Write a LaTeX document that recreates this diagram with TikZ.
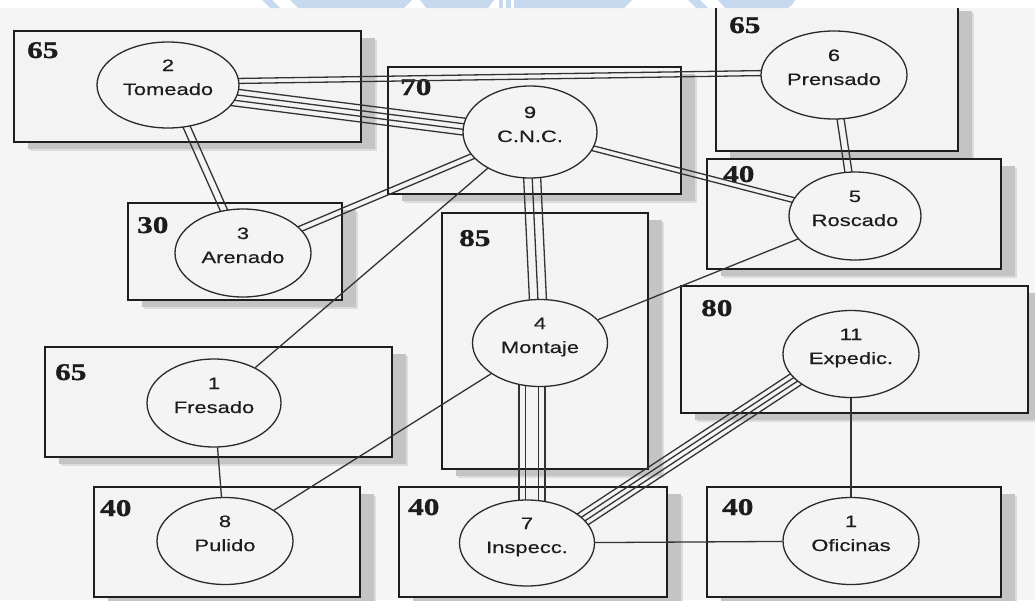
\documentclass[tikz,border=0pt]{standalone}
\usepackage{fontspec}
\usetikzlibrary{shapes.geometric,calc}

% fonts: wide sans for the stations, heavy serif for the area figures
\newfontfamily\stfont[FakeStretch=1.33,FakeBold=0.4]{Liberation Sans}
\newfontfamily\zonefont[FakeStretch=1.3,FakeBold=1.2]{Liberation Serif Bold}

\definecolor{paper}{HTML}{F5F5F5}
\definecolor{zonefill}{HTML}{F3F3F3}
\definecolor{zoneline}{HTML}{1E1E1E}
\definecolor{shadowgray}{HTML}{C4C4C4}
\definecolor{shadowsoft}{HTML}{DCDCDC}
\definecolor{stationfill}{HTML}{F4F4F4}
\definecolor{stationline}{HTML}{2A2A2A}
\definecolor{inkcol}{HTML}{1C1C1C}
\definecolor{linkcol}{HTML}{333333}
\definecolor{markblue}{HTML}{C6D9EF}

\pgfdeclarelayer{ground}
\pgfdeclarelayer{zones}
\pgfdeclarelayer{links}
\pgfdeclarelayer{top}
\pgfsetlayers{ground,zones,links,main,top}

\tikzset{
  zone/.style={draw=zoneline, line width=1.5pt, fill=zonefill},
  zonenum/.style={anchor=base west, inner sep=0pt,
    font=\zonefont\fontsize{24}{24}\selectfont, text=inkcol},
  station/.style={ellipse, draw=stationline, line width=1.3pt, fill=stationfill,
    inner sep=0pt},
  stext/.style={anchor=base, inner sep=0pt,
    font=\stfont\fontsize{16.5}{16.5}\selectfont, text=inkcol},
  link/.style={draw=linkcol, line width=1.3pt},
}

% area box with drop shadow: name, left, top, right, bottom, figure, figure x, figure y
\newcommand\workzone[8]{%
  \fill[shadowsoft] ({#2+16},{#3+9}) rectangle ({#4+16},{#5+9});
  \fill[shadowgray] ({#2+14},{#3+7}) rectangle ({#4+14},{#5+7});
  \draw[zone] (#2,#3) rectangle (#4,#5);
  \node[zonenum] (#1) at (#7,#8) {#6};
}

% station ellipse: name, x, y, width, height, number, title
\newcommand\stationnode[7]{%
  \node[station, minimum width=#4pt, minimum height=#5pt] (#1) at (#2,#3) {};
  \node[stext] (#1-num) at (#2,{#3-14}) {#6};
  \node[stext] (#1-txt) at (#2,{#3+10}) {#7};
}

% bundle of parallel lines between two points, offsets in pt
\newcommand\flow[3]{%
  \foreach \k in {#3}{%
    \draw[link] ($(#1)!\k pt!90:(#2)$) -- ($(#2)!\k pt!-90:(#1)$);
  }%
}

\begin{document}
\begin{tikzpicture}[x=1pt,y=-1pt]
\useasboundingbox (0,0) rectangle (1035,600);
\begin{pgfonlayer}{ground}
\fill[paper] (0,0) rectangle (1035,600);
\end{pgfonlayer}

% ---- stations
\stationnode{n2}{168}{85}{142}{86}{2}{Tomeado}
\stationnode{n9}{530}{132}{134}{92}{9}{C.N.C.}
\stationnode{n6}{834}{75}{146}{88}{6}{Prensado}
\stationnode{n5}{855}{216}{132}{88}{5}{Roscado}
\stationnode{n3}{243}{253}{136}{88}{3}{Arenado}
\stationnode{n4}{540}{343}{135}{87}{4}{Montaje}
\stationnode{n1}{214}{403}{134}{88}{1}{Fresado}
\stationnode{n8}{225}{541}{136}{87}{8}{Pulido}
\stationnode{n7}{527}{543}{135}{86}{7}{Inspecc.}
\stationnode{n10}{851}{541}{136}{87}{1}{Oficinas}
\stationnode{n11}{851}{354}{136}{87}{11}{Expedic.}

% ---- area boxes
\begin{pgfonlayer}{zones}
\workzone{z2}{14}{31}{361}{142}{65}{27}{58}
\workzone{z9}{388}{67}{681}{194}{70}{400}{95}
\workzone{z6}{716}{4}{958}{151}{65}{729}{33}
\workzone{z5}{707}{159}{1001}{269}{40}{723}{182}
\workzone{z3}{128}{203}{342}{300}{30}{137}{233}
\workzone{z4}{442}{213}{648}{469}{85}{459}{246}
\workzone{z11}{681}{286}{1028}{413}{80}{701}{316}
\workzone{z1}{45}{347}{392}{457}{65}{55}{380}
\workzone{z8}{94}{487}{360}{597}{40}{100}{516}
\workzone{z7}{399}{487}{667}{597}{40}{408}{515}
\workzone{z10}{707}{487}{1001}{597}{40}{722}{515}
\end{pgfonlayer}

% ---- relations (number of lines = closeness)
\begin{pgfonlayer}{links}
\coordinate (e2a) at ($(n2.center)+(0,-3)$);
\coordinate (e6a) at ($(n6.center)+(0,-3)$);
\flow{e2a}{e6a}{-2.5,2.5}
\coordinate (e2b) at ($(n2.center)+(0,4)$);
\coordinate (e9b) at ($(n9.center)+(0,3)$);
\flow{e2b}{e9b}{-8.5,-2.8,2.8,8.5}
\flow{n2.center}{n3.center}{-3.5,3.5}
\flow{n9.center}{n3.center}{-2.8,2.8}
\flow{n9.center}{n5.center}{-2.5,2.5}
\flow{n6.center}{n5.center}{-3.5,3.5}
\flow{n9.center}{n4.center}{-8.5,0,8.5}
\coordinate (e4c) at ($(n4.center)+(-8,0)$);
\coordinate (e7c) at ($(n7.center)+(5,0)$);
\flow{e4c}{e7c}{-13,-6.5,6.5,13}
\coordinate (e7d) at ($(n7.center)+(6,9)$);
\coordinate (e11d) at ($(n11.center)+(0,-11)$);
\flow{e7d}{e11d}{-7.5,-2.5,2.5,7.5}
\draw[link] (n9) -- (n1);
\draw[link] (n5) -- (n4);
\draw[link] (n4) -- (n8);
\draw[link] (n1) -- (n8);
\draw[link] (n7) -- (n10);
\draw[link] (n11) -- (n10);
\end{pgfonlayer}

% ---- page strip along the top edge
\begin{pgfonlayer}{top}
\fill[white] (0,0) rectangle (1035,8);
\fill[markblue] (262,0) -- (272,0) -- (280,8) -- (270,8) -- cycle;
\fill[markblue] (290,0) -- (412,0) -- (404,8) -- (298,8) -- cycle;
\fill[markblue] (420,0) -- (494,0) -- (488,8) -- (426,8) -- cycle;
\fill[markblue] (499,0) rectangle (503,8);
\fill[markblue] (506,0) rectangle (511,8);
\fill[markblue] (514,0) -- (632,0) -- (624,8) -- (514,8) -- cycle;
\fill[markblue] (688,0) -- (700,0) -- (708,8) -- (696,8) -- cycle;
\fill[markblue] (718,0) -- (795,0) .. controls (793,4) .. (788,8) -- (725,8) -- cycle;
\end{pgfonlayer}
\end{tikzpicture}
\end{document}
